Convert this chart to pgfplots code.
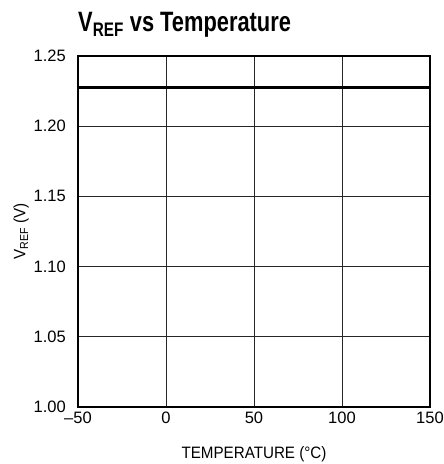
\documentclass[border=0pt]{standalone}
\usepackage{pgfplots}
\pgfplotsset{compat=1.18}
\usepackage{fontspec}
\setmainfont{Liberation Sans}
\newfontfamily\labelfont{Liberation Sans}[FakeStretch=0.92]
\newfontfamily\titlefont{Liberation Sans}[FakeStretch=0.78]
\begin{document}
\begin{tikzpicture}
\begin{axis}[
  at={(0,0)}, anchor=south west,
  width=352pt, height=351pt, scale only axis,
  xmin=-50, xmax=150, ymin=1.00, ymax=1.25,
  xtick={-50,0,50,100,150},
  xticklabels={–50,0,50,100,150},
  ytick={1.00,1.05,1.10,1.15,1.20,1.25},
  yticklabels={1.00,1.05,1.10,1.15,1.20,1.25},
  major tick length=0pt,
  grid=major,
  major grid style={line width=0.9pt, black!85},
  axis line style={line width=1.3pt, black},
  tick label style={font=\fontsize{16.5}{19}\selectfont},
  yticklabel style={anchor=east, inner sep=0pt, xshift=-12pt},
  xticklabel style={anchor=north, inner sep=0pt, yshift=-5pt},
  xlabel={TEMPERATURE (°C)},
  ylabel={V\textsubscript{REF} (V)},
  xlabel style={at={(axis description cs:0.5,0)}, anchor=north, inner sep=0pt, yshift=-39pt, font=\labelfont\fontsize{16.5}{19}\selectfont},
  ylabel style={at={(axis description cs:-0.139,0.5)}, anchor=south, rotate=0, inner sep=0pt, font=\labelfont\fontsize{16.5}{19}\selectfont},
]
\addplot[black, line width=2.6pt] coordinates {(-50,1.2275) (0,1.2275) (50,1.2275) (100,1.2275) (150,1.2275)};
\end{axis}
\node[anchor=base west, inner sep=0pt, font=\titlefont\bfseries\fontsize{28}{32}\selectfont] at (0pt,375pt) {V\textsubscript{REF} vs Temperature};
\pgfresetboundingbox
\path[use as bounding box] (-78pt,-57pt) rectangle (366pt,407pt);
\end{tikzpicture}
\end{document}
